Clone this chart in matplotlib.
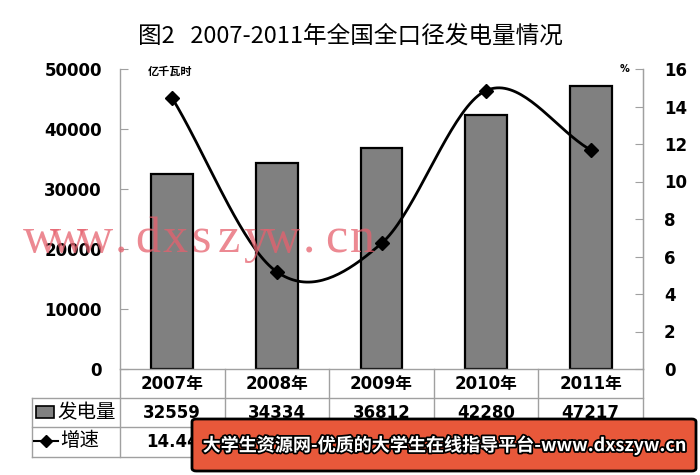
import matplotlib
matplotlib.use("Agg")
import matplotlib.pyplot as plt
import matplotlib.patheffects as pe
from matplotlib.patches import Rectangle, FancyBboxPatch
from matplotlib.lines import Line2D
import matplotlib.transforms as mtrans
import numpy as np

years = ["2007年", "2008年", "2009年", "2010年", "2011年"]
generation = [32559, 34334, 36812, 42280, 47217]
growth = [14.44, 5.18, 6.70, 14.85, 11.68]
left_ticks = [0, 10000, 20000, 30000, 40000, 50000]
right_ticks = [0, 2, 4, 6, 8, 10, 12, 14, 16]

FAM = ["DejaVu Sans", "Noto Sans CJK SC"]
CJK = ["Noto Sans CJK SC", "DejaVu Sans"]
W, H = 700, 475

def fx(px):
    return px / W

def fy(py):
    return 1 - py / H

fig = plt.figure(figsize=(7, 4.75), dpi=100)
fig.patch.set_facecolor("white")

ax = fig.add_axes([fx(120), fy(369), fx(643) - fx(120), fy(69) - fy(369)])
x = np.arange(len(years))
ax.bar(x, generation, width=0.4, color="#808080", edgecolor="black", linewidth=1.6, zorder=2)
ax.set_xlim(-0.5, len(years) - 0.5)
ax.set_ylim(0, 50000)
ax.set_yticks(left_ticks)
ax.set_yticklabels([str(t) for t in left_ticks], fontsize=12, fontweight="bold", family=FAM)
ax.set_xticks([])
ax.spines["top"].set_visible(False)
for s in ["left", "bottom", "right"]:
    ax.spines[s].set_color("#A0A0A0")
    ax.spines[s].set_linewidth(1.0)
ax.tick_params(axis="y", direction="in", length=6, color="#A0A0A0", pad=13)

ax2 = ax.twinx()
ax2.set_ylim(0, 16)
ax2.set_yticks(right_ticks)
ax2.set_yticklabels([str(t) for t in right_ticks], fontsize=12, fontweight="bold", family=FAM)
ax2.tick_params(axis="y", direction="in", length=6, color="#A0A0A0", pad=15)
for s in ["top", "left", "bottom"]:
    ax2.spines[s].set_visible(False)
ax2.spines["right"].set_color("#A0A0A0")

# smoothed line (Catmull-Rom through data points)
pts = np.column_stack([x, growth]).astype(float)
ext = np.vstack([pts[0] - (pts[1] - pts[0]), pts, pts[-1] + (pts[-1] - pts[-2])])
cx, cy = [], []
for i in range(1, len(ext) - 2):
    p0, p1, p2, p3 = ext[i - 1], ext[i], ext[i + 1], ext[i + 2]
    t = np.linspace(0, 1, 40)[:, None]
    c = 0.5 * ((2 * p1) + (-p0 + p2) * t + (2 * p0 - 5 * p1 + 4 * p2 - p3) * t ** 2
               + (-p0 + 3 * p1 - 3 * p2 + p3) * t ** 3)
    cx.extend(c[:, 0]); cy.extend(c[:, 1])
ax2.plot(cx, cy, color="black", lw=2.0, zorder=3)
ax2.plot(x, growth, linestyle="none", marker="D", markersize=7, color="black", zorder=4)

# unit labels
fig.text(fx(148), fy(71), "亿千瓦时", fontsize=8, fontweight="bold", family=CJK, va="center")
fig.text(fx(625), fy(69), "%", fontsize=7, fontweight="bold", family=FAM, va="center", ha="center")

# title
fig.text(0.5, fy(36), "图2   2007-2011年全国全口径发电量情况", fontsize=17, family=CJK,
         ha="center", va="center")

# data table
bt = mtrans.blended_transform_factory(ax.transData, fig.transFigure)
gc = "#A0A0A0"
rows_y = [369, 398, 427, 457]
for yy in rows_y[1:]:
    fig.add_artist(Line2D([fx(32), fx(643)], [fy(yy), fy(yy)], color=gc, lw=1.0))
fig.add_artist(Line2D([fx(32), fx(32)], [fy(398), fy(457)], color=gc, lw=1.0))
for b in np.arange(-0.5, len(years), 1.0):
    fig.add_artist(Line2D([b, b], [fy(369), fy(457)], color=gc, lw=1.0, transform=bt))
for i, yl in enumerate(years):
    fig.text(x[i], fy(383.5), yl, transform=bt, ha="center", va="center",
             fontsize=12, fontweight="bold", family=FAM)
    fig.text(x[i], fy(412.5), str(generation[i]), transform=bt, ha="center", va="center",
             fontsize=12, fontweight="bold", family=FAM)
    fig.text(x[i], fy(442), f"{growth[i]:.2f}", transform=bt, ha="center", va="center",
             fontsize=12, fontweight="bold", family=FAM)

# legend keys in table
fig.add_artist(Rectangle((fx(36), fy(418)), fx(18), fy(406) - fy(418), facecolor="#808080",
                         edgecolor="black", lw=1.2))
fig.text(fx(57), fy(412.5), "发电量", fontsize=14, family=CJK, va="center")
fig.add_artist(Line2D([fx(34), fx(58)], [fy(441), fy(441)], color="black", lw=1.5))
fig.add_artist(Line2D([fx(46)], [fy(441)], marker="D", markersize=6, color="black"))
fig.text(fx(60), fy(441), "增速", fontsize=14, family=CJK, va="center")

# watermark
wm = "www.dxszyw.cn"
for i, ch in enumerate(wm):
    fig.text(fx(41 + i * 26.8), fy(240), ch, fontsize=36, family="Liberation Serif",
             color=(0.9, 0.38, 0.43), alpha=0.75, va="center", ha="center", zorder=10)

# banner
fig.add_artist(FancyBboxPatch((fx(192), fy(471)), fx(696) - fx(192), fy(419) - fy(471),
                              boxstyle="round,pad=0,rounding_size=0.006",
                              facecolor="#E8583A", edgecolor="black", lw=2.0, zorder=20))
fig.text((fx(192) + fx(696)) / 2, fy(445), "大学生资源网-优质的大学生在线指导平台-www.dxszyw.cn",
         fontsize=13, fontweight="bold", family=CJK, color="white", ha="center", va="center",
         zorder=21, path_effects=[pe.withStroke(linewidth=2.5, foreground="black")])

fig.savefig("out.png", dpi=100, facecolor="white")
